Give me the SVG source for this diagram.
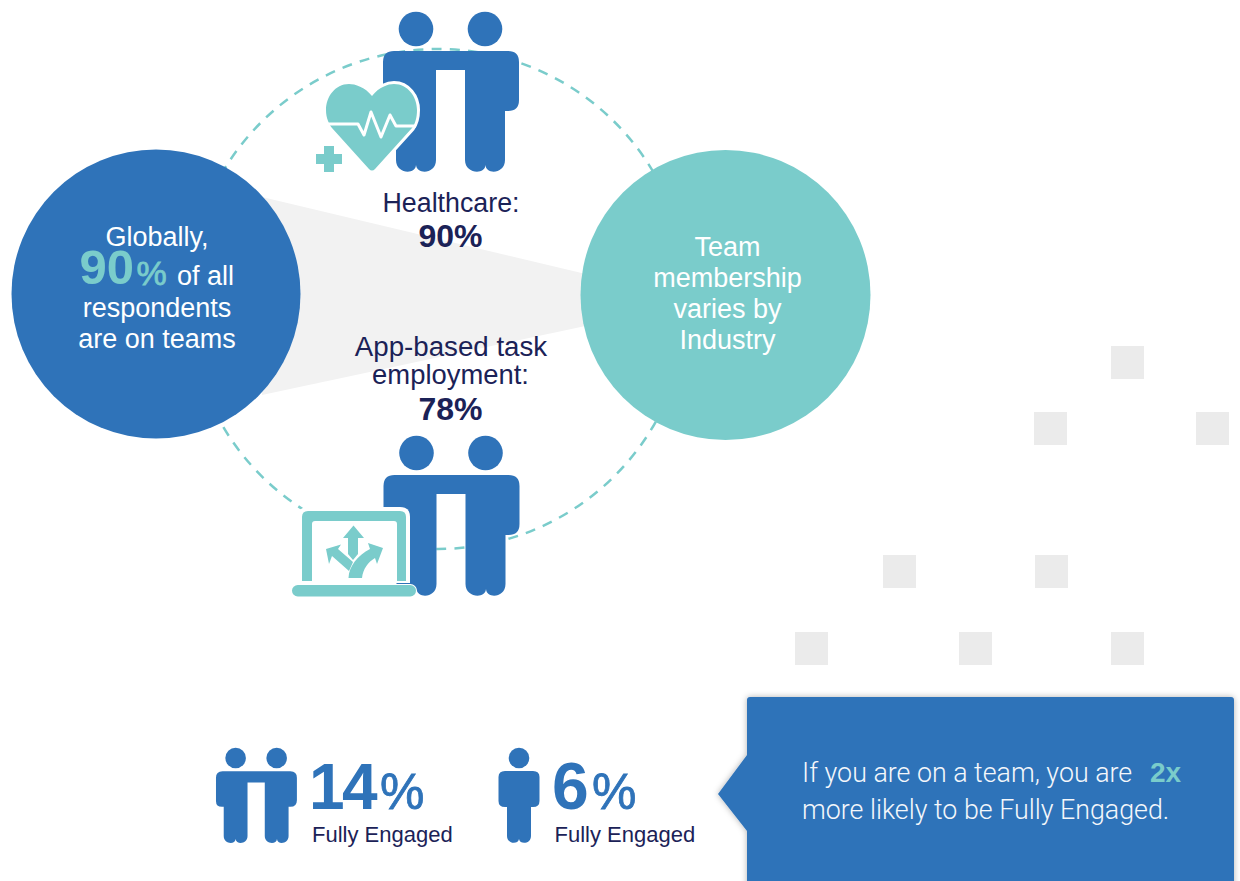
<svg xmlns="http://www.w3.org/2000/svg" xmlns:xlink="http://www.w3.org/1999/xlink" width="1240" height="881" viewBox="0 0 1240 881">
<style>
text{font-family:"Liberation Sans",Arial,sans-serif}
.c{text-anchor:middle}
.w{fill:#fff;font-size:27px}
.n{fill:#1b2257;font-size:26.800px}
.nb{fill:#1b2257;font-size:32px;font-weight:700}
.teal{fill:#7acccb}
.blue{fill:#2f73b9}
.sq{fill:#ebebeb}
.big{fill:#2f73b9;font-size:64px;font-weight:700;letter-spacing:-2.500px}
.pct{fill:#2f73b9;stroke:#2f73b9;stroke-width:.8px;font-size:50px}
.fe{fill:#1b2257;font-size:22px}
.ct{fill:#f4f7fb;font-size:26.800px;font-family:"Roboto","Liberation Sans",sans-serif;font-weight:300}
</style>
<defs>
<g id="pair" fill="#2f73b9">
<circle cx="416" cy="29" r="17.300"/>
<circle cx="485" cy="29" r="17.300"/>
<path d="M394 51H508Q519 51 519 62V100Q519 111 508 111H505V160C505 174 486 175 485.500 165C485 175 465 174 465 160V70H436V160C436 174 417 175 416 165C415.500 175 396 174 396 160V111H393Q383 111 383 101V62Q383 51 394 51Z"/>
</g>
<filter id="sh" x="-5%" y="-5%" width="110%" height="110%"><feDropShadow dx="0" dy="0" stdDeviation="3" flood-color="#000" flood-opacity=".3"/></filter>
</defs>

<g id="background-squares">
<rect class="sq" x="1111" y="346" width="33" height="33"/>
<rect class="sq" x="1034" y="412" width="33" height="33"/>
<rect class="sq" x="1196" y="412" width="33" height="33"/>
<rect class="sq" x="883" y="555" width="33" height="33"/>
<rect class="sq" x="1035" y="555" width="33" height="33"/>
<rect class="sq" x="795" y="632" width="33" height="33"/>
<rect class="sq" x="959" y="632" width="33" height="33"/>
<rect class="sq" x="1111" y="632" width="33" height="33"/>
</g>

<g id="connectors">
<polygon fill="#f2f2f2" points="262,197 590,275 590,325 262,395"/>
<circle cx="438" cy="299" r="250" fill="none" stroke="#7acccb" stroke-width="2.500" stroke-dasharray="10 8.300"/>
</g>

<g id="node-global">
<circle class="blue" cx="156" cy="294" r="144.500"/>
<text class="w c" x="157" y="246">Globally,</text>
<text x="79.500" y="284" style="font-size:49px;font-weight:700;fill:#7acccb">90</text>
<text x="136.500" y="285" style="font-size:34px;fill:#7acccb;stroke:#7acccb;stroke-width:.8px">%</text>
<text x="177" y="285" class="w">of all</text>
<text class="w c" x="157" y="316.500">respondents</text>
<text class="w c" x="157" y="348">are on teams</text>
</g>

<g id="node-industry">
<circle class="teal" cx="725.500" cy="295" r="145"/>
<text class="w c" x="727.500" y="256">Team</text>
<text class="w c" x="727.500" y="287">membership</text>
<text class="w c" x="727.500" y="318">varies by</text>
<text class="w c" x="727.500" y="349">Industry</text>
</g>

<g id="node-healthcare">
<use xlink:href="#pair" href="#pair"/>
<path class="teal" stroke="#fff" stroke-width="6" paint-order="stroke" d="M372 96C365 87 355 84 349 84C335 84 326 97 326 110C326 118 329 124 332 128L369 169Q372 172 375 169L412 128C415 124 417 118 417 110C417 97 408 84 394 84C388 84 379 87 372 96Z"/>
<polyline fill="none" stroke="#fff" stroke-width="3" stroke-linejoin="round" points="328,124 358,124 364,135 371,112 381,137 390,115 396,126 416,126"/>
<path class="teal" d="M324 146H334V154H342V164H334V172H324V164H316V154H324Z"/>
<text class="n c" x="451" y="212">Healthcare:</text>
<text class="nb c" x="450.500" y="247">90%</text>
</g>

<g id="node-app">
<use xlink:href="#pair" href="#pair" transform="translate(.5 424)"/>
<path fill="#fff" d="M298 517Q298 507 308 507H400Q410 507 410 517V583H298Z"/>
<path class="teal" d="M308 511H400Q406 511 406 517V581H397V524Q397 521 394 521H315Q312 521 312 524V581H302V517Q302 511 308 511Z"/>
<rect class="teal" stroke="#fff" stroke-width="2" paint-order="stroke" x="292" y="585" width="124" height="11.500" rx="5.750"/>
<path class="teal" d="M353.500 525.500L364 538H358V554L353 560L348 554V538H343Z"/>
<path class="teal" d="M326 549L341 544.500L338 549L353 562L349 571L332 556L329 564Z"/>
<path class="teal" d="M383 548L368 543L370 549C358 555 349 566 348.500 578H362C363 569 368 562 375 558L377 564Z"/>
<text class="w c" x="451" y="356" style="fill:#1b2257;font-size:27.700px">App-based task</text>
<text class="w c" x="450.500" y="384" style="fill:#1b2257;font-size:27.400px">employment:</text>
<text class="nb c" x="450.500" y="420">78%</text>
</g>

<g id="node-team-stat">
<use xlink:href="#pair" href="#pair" transform="translate(-11.900 740.800) scale(.595)"/>
<text class="big" x="309" y="809">14</text>
<text class="pct" x="380" y="809">%</text>
<text class="fe" x="312" y="842">Fully Engaged</text>
</g>

<g id="node-solo-stat">
<circle class="blue" cx="519" cy="758" r="10.300"/>
<path class="blue" d="M505 771H533Q539.500 771 539.500 777V801Q539.500 807 533 807H531V836C531 844 520 845 519 839C518 845 507 844 507 836V807H505Q498.500 807 498.500 801V777Q498.500 771 505 771Z"/>
<text class="big" x="552" y="809" style="font-size:66px">6</text>
<text class="pct" x="592" y="809">%</text>
<text class="fe" x="554.500" y="842">Fully Engaged</text>
</g>

<g id="node-callout">
<path class="blue" filter="url(#sh)" d="M750 697H1231Q1234 697 1234 700V890H747V831L718 794L747 755V700Q747 697 750 697Z"/>
<text class="ct" x="802" y="781.500">If you are on a team, you are</text>
<text x="1150" y="781.500" style="fill:#7acccb;font-size:28px;font-weight:700">2x</text>
<text class="ct" x="802" y="818.500">more likely to be Fully Engaged.</text>
</g>
</svg>
